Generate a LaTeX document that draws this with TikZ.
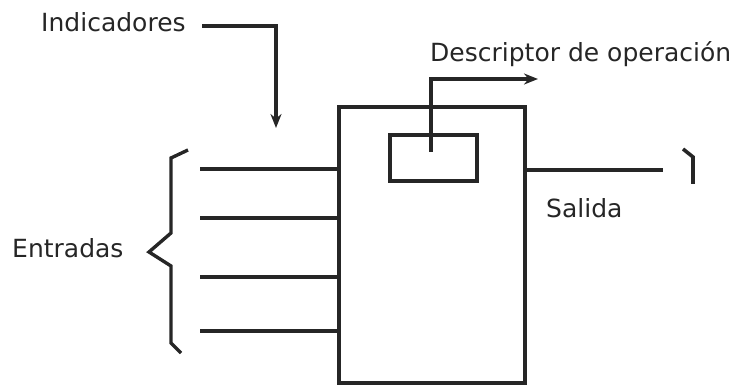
\documentclass[tikz,border=0pt]{standalone}
\usepackage{fontspec}
\setmainfont{DejaVu Sans}
\usetikzlibrary{arrows.meta}
\definecolor{ink}{HTML}{262626}
\tikzset{
  wire/.style={draw=ink, line width=3.6pt},
  arrowwire/.style={wire, -{Stealth[length=14pt,width=11pt]}},
  blockbox/.style={draw=ink, line width=3.8pt, inner sep=0pt},
  lbl/.style={text=ink, font=\fontsize{25}{30}\selectfont, inner sep=0pt, anchor=base west},
}
\begin{document}
\begin{tikzpicture}[x=1pt, y=-1pt]
  \useasboundingbox (0,0) rectangle (738,387);

  % main processing block and its internal descriptor box
  \node[blockbox, minimum width=186pt, minimum height=276pt] (proc) at (432,245) {};
  \node[blockbox, minimum width=87pt, minimum height=46pt] (desc) at (433.5,158) {};

  % labels
  \node[lbl] (ind) at (41,32) {Indicadores};
  \node[lbl] (dlab) at (430,62) {Descriptor de operación};
  \node[lbl] (sal) at (546,218) {Salida};
  \node[lbl] (ent) at (12,258) {Entradas};

  % indicator flags entering from above
  \coordinate (indstart) at (202,26);
  \coordinate (indtip) at (276,128);
  \draw[arrowwire] (indstart) -| (indtip);

  % operation descriptor leaving the inner box
  \coordinate (dstart) at (431,152);
  \coordinate (dtip) at (538,79);
  \draw[arrowwire] (dstart) |- (dtip);

  % input lines
  \foreach \n/\y in {1/169, 2/218, 3/277, 4/331} {
    \coordinate (in\n) at (200,\y);
    \draw[wire] (in\n) -- (in\n -| proc.west);
  }

  % output line and its end mark
  \coordinate (out) at (663,170);
  \draw[wire] (out -| proc.east) -- (out);
  \coordinate (m1) at (683,149);
  \coordinate (m2) at (693,157);
  \coordinate (m3) at (693,184);
  \draw[wire] (m1) -- (m2) -- (m3);

  % brace grouping the inputs
  \draw[wire, line width=3.4pt, line join=miter]
    (188,150) -- (171,158) -- (171,233) -- (149,252) -- (171,266)
    -- (171,343) -- (181,353);
\end{tikzpicture}
\end{document}
